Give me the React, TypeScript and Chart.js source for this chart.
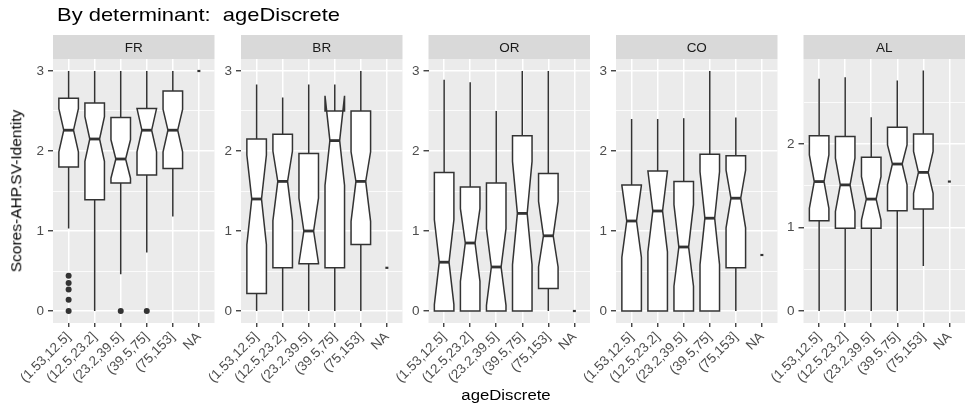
import React, { useEffect, useRef } from "react";
import { Chart, registerables } from "chart.js";

Chart.register(...registerables);

const FONT = "'Liberation Sans', Arial, Helvetica, sans-serif";
const W = 974;
const H = 411;

// ---------- data ----------
const categories = ["(1.53,12.5]", "(12.5,23.2]", "(23.2,39.5]", "(39.5,75]", "(75,153]", "NA"];
const panelNames = ["FR", "BR", "OR", "CO", "AL"];

// rows: FR, BR, OR, CO, AL ; columns: categories
const whiskerLow = [
  [1.03, 0, 0.46, 0.73, 1.18, 3.0],
  [0, 0, 0, 0, 0, 0.54],
  [0, 0, 0, 0, 0, 0],
  [0, 0, 0, 0, 0, 0.7],
  [0, 0, 0, 0, 0.54, 1.55],
];
const quartile1 = [
  [1.8, 1.39, 1.6, 1.7, 1.78, 3.0],
  [0.22, 0.54, 0.59, 0.54, 0.83, 0.54],
  [0, 0, 0, 0, 0.28, 0],
  [0, 0, 0, 0, 0.54, 0.7],
  [1.08, 0.99, 0.99, 1.2, 1.22, 1.55],
];
const medians = [
  [2.26, 2.15, 1.9, 2.26, 2.26, 3.0],
  [1.4, 1.62, 1.0, 2.13, 1.62, 0.54],
  [0.61, 0.85, 0.55, 1.22, 0.94, 0],
  [1.125, 1.25, 0.8, 1.16, 1.41, 0.7],
  [1.55, 1.51, 1.34, 1.76, 1.66, 1.55],
];
const quartile3 = [
  [2.66, 2.6, 2.42, 2.53, 2.75, 3.0],
  [2.15, 2.21, 1.97, 2.5, 2.5, 0.54],
  [1.73, 1.55, 1.6, 2.19, 1.72, 0],
  [1.575, 1.75, 1.62, 1.96, 1.94, 0.7],
  [2.1, 2.09, 1.84, 2.2, 2.12, 1.55],
];
const whiskerHigh = [
  [3.0, 3.0, 3.0, 3.0, 3.0, 3.0],
  [2.83, 2.67, 2.83, 2.83, 3.0, 0.54],
  [2.89, 2.86, 2.5, 3.0, 3.0, 0],
  [2.4, 2.4, 2.41, 3.0, 2.42, 0.7],
  [2.78, 2.8, 2.32, 2.76, 2.88, 1.55],
];
const notchLow = [
  [1.99, 1.87, 1.66, 1.99, 1.99, 3.0],
  [0.83, 1.13, 0.6, 1.57, 1.12, 0.54],
  [0.08, 0.37, 0.07, 0.58, 0.55, 0],
  [0.67, 0.74, 0.31, 0.58, 1.04, 0.7],
  [1.23, 1.19, 1.09, 1.51, 1.41, 1.55],
];
const notchHigh = [
  [2.53, 2.43, 2.14, 2.53, 2.52, 3.0],
  [1.95, 2.0, 1.41, 2.69, 1.99, 0.54],
  [1.14, 1.28, 1.03, 1.87, 1.37, 0],
  [1.57, 1.75, 1.33, 1.74, 1.76, 0.7],
  [1.87, 1.83, 1.61, 1.99, 1.91, 1.55],
];
// outliers
const outlierPanel = [0, 0, 0, 0, 0, 0, 0];
const outlierCategory = [0, 0, 0, 0, 0, 2, 3];
const outlierValue = [0.44, 0.35, 0.27, 0.14, 0, 0, 0];

// y scales (free per panel)
const yLimitLow = [-0.15, -0.15, -0.15, -0.15, -0.144];
const yLimitHigh = [3.15, 3.15, 3.15, 3.15, 3.018];
const yMajorBreaks = [[0, 1, 2, 3], [0, 1, 2, 3], [0, 1, 2, 3], [0, 1, 2, 3], [0, 1, 2]];
const yMinorBreaks = [[0.5, 1.5, 2.5], [0.5, 1.5, 2.5], [0.5, 1.5, 2.5], [0.5, 1.5, 2.5], [0.5, 1.5, 2.5]];

// ---------- layout ----------
const PANEL_LEFT = [53, 241, 428.5, 616, 803.5];
const PANEL_W = 161.5;
const PANEL_TOP = 59;
const PANEL_BOTTOM = 323;
const STRIP_H = 24;
const Y_AXIS_W = 30;
const X_AXIS_H = 70;
const BOX_WIDTH = 0.75;
const INK = "#333333";

const facetPlugin = {
  id: "facet",
  beforeDraw(chart: any, _args: any, opts: any) {
    const { ctx, chartArea: a } = chart;
    ctx.save();
    ctx.fillStyle = "#EBEBEB";
    ctx.fillRect(a.left, a.top, a.right - a.left, a.bottom - a.top);
    ctx.fillStyle = "#D9D9D9";
    ctx.fillRect(a.left, a.top - STRIP_H, a.right - a.left, STRIP_H);
    ctx.fillStyle = "#1A1A1A";
    ctx.font = `13.5px ${FONT}`;
    ctx.textAlign = "center";
    ctx.textBaseline = "middle";
    ctx.fillText(panelNames[opts.panel], (a.left + a.right) / 2, a.top - STRIP_H / 2 + 1);
    ctx.restore();
  },
  beforeDatasetsDraw(chart: any, _args: any, opts: any) {
    const p = opts.panel;
    const { ctx } = chart;
    const xs = chart.scales.x;
    const ys = chart.scales.y;
    const y = (v: number) => ys.getPixelForValue(v);
    ctx.save();
    ctx.strokeStyle = INK;
    ctx.lineJoin = "miter";
    for (let i = 0; i < categories.length; i++) {
      const xc = xs.getPixelForValue(i);
      const half = xs.getPixelForValue(i + BOX_WIDTH / 2) - xc;
      const lo = whiskerLow[p][i];
      const q1 = quartile1[p][i];
      const med = medians[p][i];
      const q3 = quartile3[p][i];
      const hi = whiskerHigh[p][i];
      const nlo = notchLow[p][i];
      const nhi = notchHigh[p][i];
      if (q1 === q3) {
        ctx.lineWidth = 2.2;
        ctx.beginPath();
        ctx.moveTo(xc - 1.5, y(med));
        ctx.lineTo(xc + 1.5, y(med));
        ctx.stroke();
        continue;
      }
      ctx.lineWidth = 1.5;
      ctx.beginPath();
      ctx.moveTo(xc, y(q3));
      ctx.lineTo(xc, y(hi));
      ctx.moveTo(xc, y(q1));
      ctx.lineTo(xc, y(lo));
      ctx.stroke();
      const xl = xc - half;
      const xr = xc + half;
      const nl = xc - half / 2;
      const nr = xc + half / 2;
      ctx.beginPath();
      ctx.moveTo(xl, y(q3));
      ctx.lineTo(xl, y(nhi));
      ctx.lineTo(nl, y(med));
      ctx.lineTo(xl, y(nlo));
      ctx.lineTo(xl, y(q1));
      ctx.lineTo(xr, y(q1));
      ctx.lineTo(xr, y(nlo));
      ctx.lineTo(nr, y(med));
      ctx.lineTo(xr, y(nhi));
      ctx.lineTo(xr, y(q3));
      ctx.closePath();
      ctx.fillStyle = "#FFFFFF";
      ctx.fill();
      ctx.stroke();
      ctx.lineWidth = 2.8;
      ctx.beginPath();
      ctx.moveTo(nl, y(med));
      ctx.lineTo(nr, y(med));
      ctx.stroke();
    }
    ctx.restore();
  },
};

function makeChart(canvas: HTMLCanvasElement, p: number) {
  const pts: { x: number; y: number }[] = [];
  outlierPanel.forEach((pp, k) => {
    if (pp === p) pts.push({ x: outlierCategory[k], y: outlierValue[k] });
  });
  const isMajor = (v: number) => yMajorBreaks[p].includes(v);
  return new Chart(canvas, {
    type: "scatter",
    data: {
      datasets: [
        {
          data: pts,
          pointRadius: 3,
          pointHoverRadius: 3,
          backgroundColor: INK,
          borderWidth: 0,
        },
      ],
    },
    options: {
      animation: false,
      responsive: false,
      events: [],
      layout: {
        padding: {
          left: PANEL_LEFT[p] - Y_AXIS_W,
          right: W - (PANEL_LEFT[p] + PANEL_W),
          top: PANEL_TOP,
          bottom: H - PANEL_BOTTOM - X_AXIS_H,
        },
      },
      plugins: {
        legend: { display: false },
        tooltip: { enabled: false },
        facet: { panel: p },
      } as any,
      scales: {
        x: {
          type: "linear",
          min: -0.6,
          max: 5.6,
          afterBuildTicks: (s: any) => {
            s.ticks = categories.map((_, i) => ({ value: i }));
          },
          afterFit: (s: any) => {
            s.height = X_AXIS_H;
          },
          ticks: {
            autoSkip: false,
            minRotation: 45,
            maxRotation: 45,
            padding: 2,
            color: "#4D4D4D",
            font: { size: 13.5, family: FONT },
            callback: (v: any) => categories[Math.round(Number(v))] ?? "",
          },
          grid: {
            color: "#FFFFFF",
            lineWidth: 1.5,
            tickLength: 4,
            tickColor: INK,
            tickWidth: 1.3,
          },
          border: { display: false },
        },
        y: {
          type: "linear",
          min: yLimitLow[p],
          max: yLimitHigh[p],
          afterBuildTicks: (s: any) => {
            const all = [...yMajorBreaks[p], ...yMinorBreaks[p]].sort((a, b) => a - b);
            s.ticks = all.map((v) => ({ value: v }));
          },
          afterFit: (s: any) => {
            s.width = Y_AXIS_W;
          },
          ticks: {
            autoSkip: false,
            padding: 4,
            color: "#4D4D4D",
            font: { size: 13.5, family: FONT },
            callback: (v: any) => (isMajor(Number(v)) ? String(v) : ""),
          },
          grid: {
            color: "#FFFFFF",
            lineWidth: (c: any) => (isMajor(c.tick?.value) ? 1.5 : 0.8),
            tickLength: 5,
            tickColor: (c: any) => (isMajor(c.tick?.value) ? INK : "rgba(0,0,0,0)"),
            tickWidth: 1.3,
          },
          border: { display: false },
        },
      },
    },
    plugins: [facetPlugin],
  } as any);
}

export default function App() {
  const refs = useRef<(HTMLCanvasElement | null)[]>([]);
  useEffect(() => {
    Chart.defaults.font.family = FONT;
    const charts = panelNames.map((_, p) => makeChart(refs.current[p] as HTMLCanvasElement, p));
    return () => charts.forEach((c) => c.destroy());
  }, []);
  return (
    <div
      style={{
        position: "absolute",
        left: 0,
        top: 0,
        width: W,
        height: H,
        background: "#FFFFFF",
        overflow: "hidden",
        fontFamily: FONT,
      }}
    >
      {panelNames.map((n, p) => (
        <canvas
          key={n}
          ref={(el) => {
            refs.current[p] = el;
          }}
          width={W}
          height={H}
          style={{ position: "absolute", left: 0, top: 0, width: W, height: H }}
        />
      ))}
      <div
        style={{
          position: "absolute",
          left: 57,
          top: 5,
          fontSize: 18.6,
          lineHeight: "20px",
          whiteSpace: "pre",
          color: "#000000",
          transform: "scaleX(1.18)",
          transformOrigin: "left top",
        }}
      >
        {"By determinant:  ageDiscrete"}
      </div>
      <div
        style={{
          position: "absolute",
          left: 506,
          top: 387,
          fontSize: 15.5,
          lineHeight: "16px",
          whiteSpace: "pre",
          color: "#000000",
          transform: "translateX(-50%) scaleX(1.08)",
        }}
      >
        ageDiscrete
      </div>
      <div
        style={{
          position: "absolute",
          left: 16,
          top: 190.5,
          fontSize: 15.5,
          lineHeight: "15.5px",
          whiteSpace: "pre",
          color: "#000000",
          transform: "translate(-50%, -50%) rotate(-90deg)",
        }}
      >
        Scores-AHP.SV-Identity
      </div>
    </div>
  );
}
